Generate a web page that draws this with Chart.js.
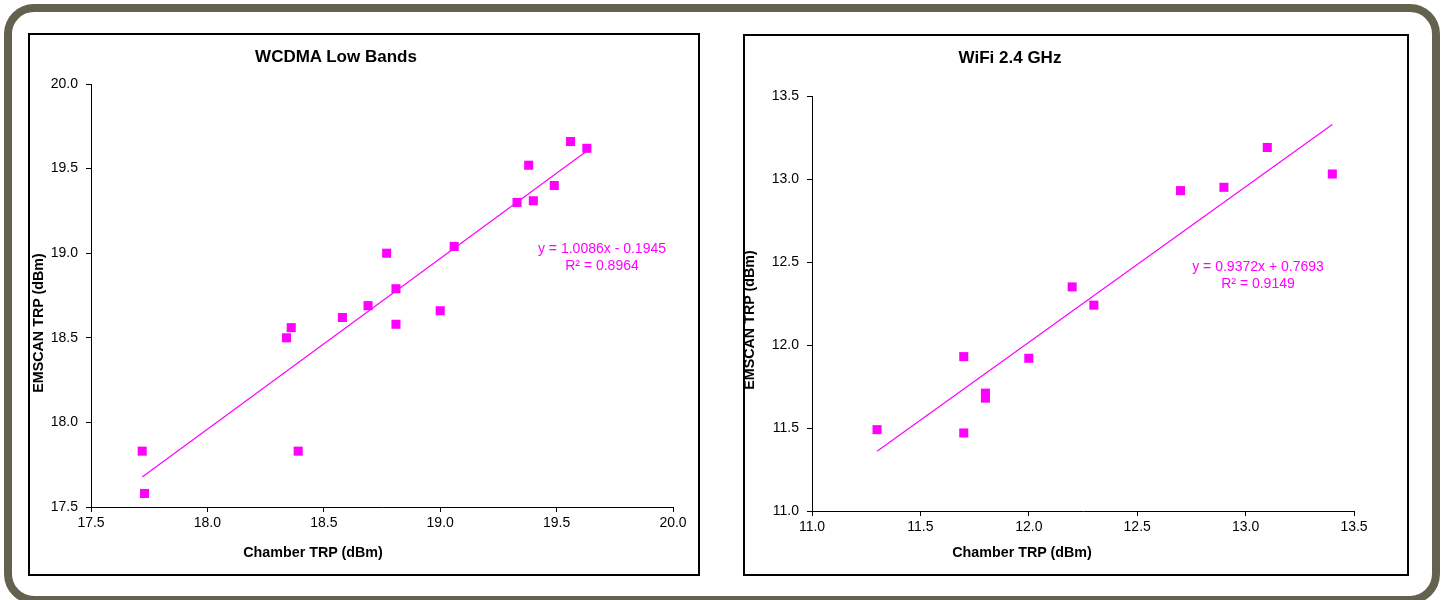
<!DOCTYPE html>
<html>
<head>
<meta charset="utf-8">
<script src="https://cdn.jsdelivr.net/npm/chart.js@4.4.0/dist/chart.umd.min.js"></script>
<style>
  body { margin: 0; background: #fff; font-family: "Liberation Sans", Arial, sans-serif; }
  #page { position: relative; width: 1445px; height: 600px; overflow: hidden; }
  .frame { position: absolute; left: 4px; top: 4px; width: 1436px; height: 600px; box-sizing: border-box;
           border: 8px solid #62624e; border-radius: 30px; }
  .box { position: absolute; box-sizing: border-box; border: 2px solid #000; pointer-events: none; }
  .wrap { position: absolute; }
  .t { position: absolute; white-space: nowrap; color: #000; font-weight: bold; transform: translate(-50%, -50%); }
  .ttl { font-size: 17px; }
  .ax { font-size: 14.3px; }
  .rot { transform: translate(-50%, -50%) rotate(-90deg); }
  .eq { position: absolute; color: #ff00ff; font-size: 14px; line-height: 17px; text-align: center; width: 220px; }
</style>
</head>
<body>
<div id="page">
  <div class="frame"></div>

  <div class="wrap" style="left:28px;top:33px;width:671px;height:542px;">
    <canvas id="chartWcdma" width="671" height="542"></canvas>
  </div>
  <div class="box" style="left:28px;top:33px;width:672px;height:543px;"></div>
  <div class="t ttl" style="left:336px;top:57px;">WCDMA Low Bands</div>
  <div class="t ax" style="left:313px;top:552px;">Chamber TRP (dBm)</div>
  <div class="t ax rot" style="left:38px;top:323px;">EMSCAN TRP (dBm)</div>
  <div class="eq" style="left:492px;top:240px;">y = 1.0086x - 0.1945<br>R² = 0.8964</div>

  <div class="wrap" style="left:743px;top:34px;width:665px;height:541px;">
    <canvas id="chartWifi" width="665" height="541"></canvas>
  </div>
  <div class="box" style="left:743px;top:34px;width:666px;height:542px;"></div>
  <div class="t ttl" style="left:1010px;top:58px;">WiFi 2.4 GHz</div>
  <div class="t ax" style="left:1022px;top:552px;">Chamber TRP (dBm)</div>
  <div class="t ax rot" style="left:749px;top:320px;">EMSCAN TRP (dBm)</div>
  <div class="eq" style="left:1148px;top:258px;">y = 0.9372x + 0.7693<br>R² = 0.9149</div>
</div>

<script>
// WCDMA Low Bands: chamber vs EMSCAN TRP (dBm)
const wcdmaChamber = [17.72, 17.73, 18.39, 18.34, 18.36, 18.58, 18.69, 18.77, 18.81,
                      18.81, 19.00, 19.06, 19.33, 19.40, 19.38, 19.49, 19.56, 19.63];
const wcdmaEmscan  = [17.83, 17.58, 17.83, 18.50, 18.56, 18.62, 18.69, 19.00, 18.79,
                      18.58, 18.66, 19.04, 19.30, 19.31, 19.52, 19.40, 19.66, 19.62];
const wcdmaFit = [1.0086, -0.1945];   // slope, intercept
const wcdmaTicks = [17.5, 18.0, 18.5, 19.0, 19.5, 20.0];

// WiFi 2.4 GHz
const wifiChamber = [11.3, 11.7, 11.7, 11.8, 11.8, 12.0, 12.2, 12.3, 12.7, 12.9, 13.1, 13.4];
const wifiEmscan  = [11.49, 11.93, 11.47, 11.71, 11.68, 11.92, 12.35, 12.24, 12.93, 12.95, 13.19, 13.03];
const wifiFit = [0.9372, 0.7693];
const wifiTicks = [11.0, 11.5, 12.0, 12.5, 13.0, 13.5];

const MAGENTA = '#ff00ff';
const fonte = { family: '"Liberation Sans", Arial, sans-serif', size: 14 };

function pontos(xs, ys) {
  return xs.map((x, i) => ({ x, y: ys[i] }));
}

// linha de tendencia entre o menor e o maior x
function tendencia(xs, fit) {
  const x0 = Math.min(...xs), x1 = Math.max(...xs);
  return [{ x: x0, y: fit[0] * x0 + fit[1] }, { x: x1, y: fit[0] * x1 + fit[1] }];
}

function eixo(ticks, tamanho, lado) {
  return {
    type: 'linear',
    min: ticks[0],
    max: ticks[ticks.length - 1],
    ticks: {
      stepSize: 0.5,
      color: '#000',
      font: fonte,
      padding: lado === 'y' ? 8 : 3,
      callback: v => v.toFixed(1)
    },
    grid: { display: true, drawOnChartArea: false, drawTicks: true, tickLength: 5, color: '#000' },
    border: { display: true, color: '#000', width: 1 },
    afterFit: s => { if (lado === 'y') s.width = tamanho; else s.height = tamanho; }
  };
}

function criarGrafico(id, xs, ys, fit, ticksX, ticksY, area) {
  new Chart(document.getElementById(id), {
    type: 'scatter',
    data: {
      datasets: [{
        data: pontos(xs, ys),
        pointStyle: 'rect',
        pointRadius: 6.4,
        pointHoverRadius: 6.4,
        pointBorderWidth: 0,
        backgroundColor: MAGENTA,
        borderColor: MAGENTA
      }, {
        data: tendencia(xs, fit),
        showLine: true,
        pointRadius: 0,
        borderColor: MAGENTA,
        borderWidth: 1.2,
        fill: false
      }]
    },
    options: {
      responsive: false,
      animation: false,
      layout: { padding: { top: area.top, right: area.right, bottom: 0, left: 0 } },
      plugins: { legend: { display: false }, title: { display: false }, tooltip: { enabled: false } },
      scales: {
        x: eixo(ticksX, area.xh, 'x'),
        y: eixo(ticksY, area.yw, 'y')
      }
    }
  });
}

criarGrafico('chartWcdma', wcdmaChamber, wcdmaEmscan, wcdmaFit, wcdmaTicks, wcdmaTicks,
  { top: 51, right: 26, xh: 68, yw: 63 });
criarGrafico('chartWifi', wifiChamber, wifiEmscan, wifiFit, wifiTicks, wifiTicks,
  { top: 62, right: 54, xh: 64, yw: 69 });
</script>
</body>
</html>
